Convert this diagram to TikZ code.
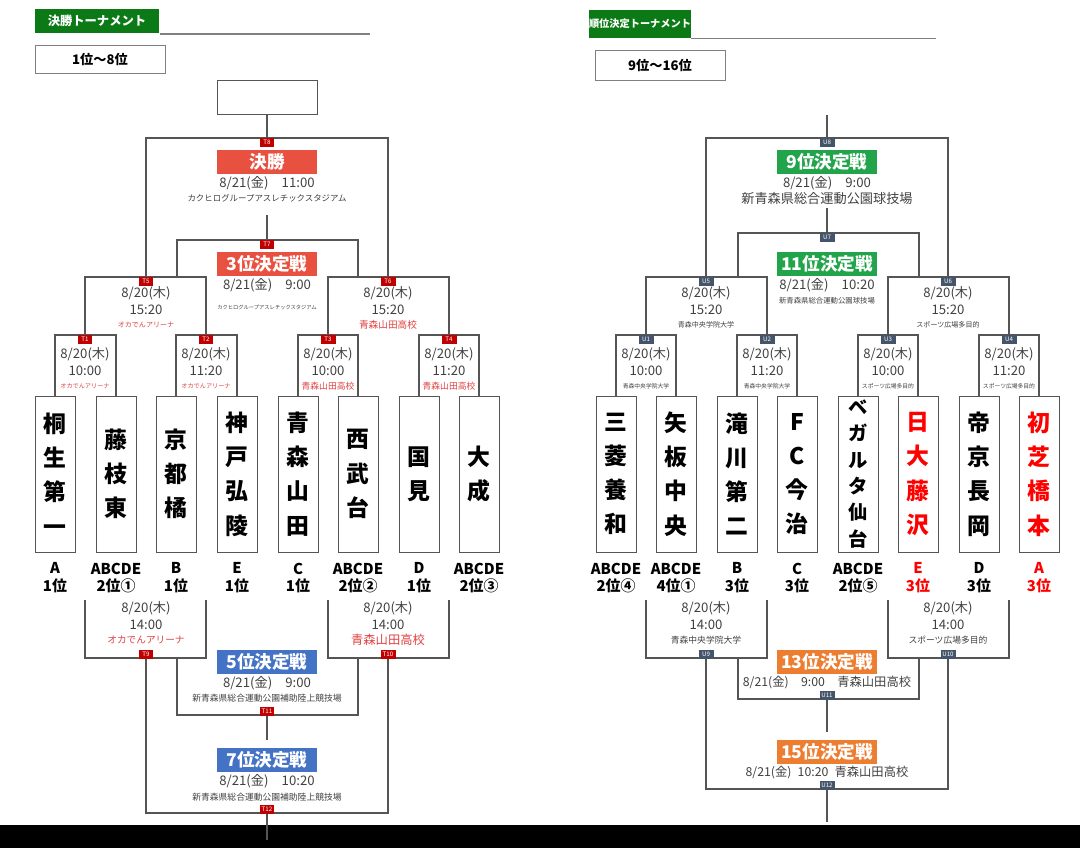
\documentclass[tikz,border=0pt]{standalone}
\usepackage{fontspec}
\setmainfont{Noto Sans CJK JP}
\usetikzlibrary{positioning}
\definecolor{kred}{HTML}{E8513F}
\definecolor{kblue}{HTML}{4472C4}
\definecolor{kgreen}{HTML}{22A44B}
\definecolor{korange}{HTML}{ED7D31}
\definecolor{khead}{HTML}{0B7A16}
\definecolor{ktagr}{HTML}{C00000}
\definecolor{ktagu}{HTML}{44546A}
\definecolor{kvenue}{HTML}{E04040}
\definecolor{kline}{HTML}{555555}

\tikzset{
  team/.style={draw=kline, minimum width=0.8cm, minimum height=3.12cm, inner sep=0pt,
    align=center, font=\fontsize{13}{19.5}\selectfont\bfseries},
  rank/.style={below=0.2cm, align=center, inner sep=0pt, font=\fontsize{8.5}{9.8}\selectfont\bfseries},
  tag/.style={fill=#1, text=white, anchor=north, inner sep=0.5pt, minimum width=0.3cm,
    minimum height=0.18cm, font=\fontsize{3.5}{4}\selectfont, yshift=0.01cm},
  title/.style={fill=#1, text=white, minimum width=2cm, minimum height=0.5cm, inner sep=0pt,
    font=\fontsize{10}{11}\selectfont\bfseries},
  bline/.style={draw=kline, line width=0.6pt},
  info/.style={text=black!75, inner sep=0pt, font=\fontsize{7.5}{8}\selectfont},
}
% three lines under a match
\newcommand\kinfo[5]{%
  \node[info] at (#1,#2) {8/20(木)};
  \node[info] at (#1,#2+17) {#3};
  \node[info, text=#5, font=\fontsize{#4}{5}\selectfont] at (#1,#2+32) {\csname venuetext\endcsname};}

\begin{document}
\begin{tikzpicture}[x=0.02cm, y=-0.02cm]
\useasboundingbox (0,0) rectangle (1080,848);
\fill[black] (0,825) rectangle (1080,848);

% headers
\node[fill=khead, text=white, minimum width=2.5cm, minimum height=0.5cm, font=\fontsize{7}{8}\selectfont\bfseries] (hl) at (97,21) {決勝トーナメント};
\draw[gray, line width=0.8pt] (hl.south east) -- ++(210,0);
\node[draw=gray, minimum width=2.6cm, minimum height=0.56cm, font=\fontsize{7.5}{9}\selectfont\bfseries] (rl) at (100,59) {1位～8位};
\node[fill=khead, text=white, minimum width=1.8cm, minimum height=0.56cm, inner sep=0pt, font=\fontsize{5.8}{7}\selectfont\bfseries] (hr) at (640,24) {順位決定トーナメント};
\draw[gray, line width=0.8pt] (hr.south east) -- ++(245,0);
\node[draw=gray, minimum width=2.6cm, minimum height=0.6cm, font=\fontsize{7.5}{9}\selectfont\bfseries] (rr) at (660,65) {9位～16位};

% teams
\foreach \i/\x/\nm/\rk/\col in {
  1/55/{桐\\生\\第\\一}/{A\\1位}/black, 2/116/{藤\\枝\\東}/{ABCDE\\2位①}/black,
  3/176/{京\\都\\橘}/{B\\1位}/black, 4/237/{神\\戸\\弘\\陵}/{E\\1位}/black,
  5/298/{青\\森\\山\\田}/{C\\1位}/black, 6/358/{西\\武\\台}/{ABCDE\\2位②}/black,
  7/419/{国\\見}/{D\\1位}/black, 8/479/{大\\成}/{ABCDE\\2位③}/black} {
  \node[team, text=\col] (L\i) at (\x,474) {\nm};
  \node[rank, text=\col] (LR\i) [below=0.2cm of L\i] {\rk};
}
\foreach \i/\x/\nm/\rk/\col in {
  1/616/{三\\菱\\養\\和}/{ABCDE\\2位④}/black, 2/676/{矢\\板\\中\\央}/{ABCDE\\4位①}/black,
  3/737/{滝\\川\\第\\二}/{B\\3位}/black, 4/797/{F\\C\\今\\治}/{C\\3位}/black,
  6/918/{日\\大\\藤\\沢}/{E\\3位}/red, 7/979/{帝\\京\\長\\岡}/{D\\3位}/black,
  8/1039/{初\\芝\\橋\\本}/{A\\3位}/red} {
  \node[team, text=\col] (R\i) at (\x,474) {\nm};
  \node[rank, text=\col] (RR\i) [below=0.2cm of R\i] {\rk};
}
\node[team, font=\fontsize{11}{15}\selectfont\bfseries] (R5) at (858,474) {ベ\\ガ\\ル\\タ\\仙\\台};
\node[rank] (RR5) [below=0.2cm of R5] {ABCDE\\2位⑤};

% ---------- left tree ----------
\coordinate (t1) at (85,335); \coordinate (t2) at (206,335);
\coordinate (t3) at (328,335); \coordinate (t4) at (449,335);
\coordinate (t5) at (146,277); \coordinate (t6) at (388,277);
\coordinate (t7) at (267,240); \coordinate (t8) at (267,138);
\coordinate (t7l) at (177,277); \coordinate (t7r) at (358,277);
\node[draw=kline, minimum width=2cm, minimum height=0.68cm] (top) at (267,97) {};
\draw[bline] (L1.north) |- (t1) -| (L2.north);
\draw[bline] (L3.north) |- (t2) -| (L4.north);
\draw[bline] (L5.north) |- (t3) -| (L6.north);
\draw[bline] (L7.north) |- (t4) -| (L8.north);
\draw[bline] (t1) |- (t5) -| (t2);
\draw[bline] (t3) |- (t6) -| (t4);
\draw[bline] (t5) |- (t8) -| (t6);
\draw[bline] (t8) -- (top.south);
\draw[bline] (t7l) |- (t7) -| (t7r);
\draw[bline] (t7) -- (267,215);
\foreach \c/\n in {t1/T1,t2/T2,t3/T3,t4/T4,t5/T5,t6/T6,t7/T7,t8/T8} \node[tag=ktagr] at (\c) {\n};

\node[title=kred] (final) at (267,162) {決勝};
\node[info] at (267,183) {8/21(金)\quad 11:00};
\node[info, font=\fontsize{4.8}{5}\selectfont] at (267,198) {カクヒログループアスレチックスタジアム};
\node[title=kred] (third) at (267,264) {3位決定戦};
\node[info] at (267,285) {8/21(金)\quad 9:00};
\node[info, font=\fontsize{3}{4}\selectfont] at (267,307) {カクヒログループアスレチックスタジアム};

\def\venuetext{オカでんアリーナ}
\kinfo{146}{293}{15:20}{4}{kvenue}
\kinfo{85}{354}{10:00}{3.5}{kvenue}
\kinfo{206}{354}{11:20}{3.5}{kvenue}
\def\venuetext{青森山田高校}
\kinfo{388}{293}{15:20}{5.5}{kvenue}
\kinfo{328}{354}{10:00}{5}{kvenue}
\kinfo{449}{354}{11:20}{5}{kvenue}

% left lower tree
\coordinate (b1) at (85,600); \coordinate (b2) at (206,600);
\coordinate (b3) at (328,600); \coordinate (b4) at (449,600);
\coordinate (t9) at (146,658); \coordinate (t10) at (388,658);
\coordinate (t11l) at (177,658); \coordinate (t11r) at (358,658);
\coordinate (t11) at (267,715); \coordinate (t12) at (267,813);
\draw[bline] (b1) |- (t9) -| (b2);
\draw[bline] (b3) |- (t10) -| (b4);
\draw[bline] (t11l) |- (t11) -| (t11r);
\draw[bline] (t11) -- (267,740);
\draw[bline] (t9) |- (t12) -| (t10);
\draw[bline] (t12) -- (267,840);
\foreach \c/\n in {t9/T9,t10/T10,t11/T11,t12/T12} \node[tag=ktagr, anchor=south, yshift=-0.03cm] at (\c) {\n};
\def\venuetext{オカでんアリーナ}
\kinfo{146}{608}{14:00}{5.5}{kvenue}
\def\venuetext{青森山田高校}
\kinfo{388}{608}{14:00}{7}{kvenue}
\node[title=kblue] (fifth) at (267,662) {5位決定戦};
\node[info] at (267,683) {8/21(金)\quad 9:00};
\node[info, font=\fontsize{5}{5}\selectfont] at (267,698) {新青森県総合運動公園補助陸上競技場};
\node[title=kblue] (seventh) at (267,760) {7位決定戦};
\node[info] at (267,781) {8/21(金)\quad 10:20};
\node[info, font=\fontsize{5}{5}\selectfont] at (267,797) {新青森県総合運動公園補助陸上競技場};

% ---------- right tree ----------
\coordinate (u1) at (646,335); \coordinate (u2) at (767,335);
\coordinate (u3) at (888,335); \coordinate (u4) at (1009,335);
\coordinate (u5) at (706,277); \coordinate (u6) at (948,277);
\coordinate (u7) at (827,233); \coordinate (u8) at (827,138);
\coordinate (u7l) at (738,277); \coordinate (u7r) at (919,277);
\coordinate (utop) at (827,115);
\draw[bline] (R1.north) |- (u1) -| (R2.north);
\draw[bline] (R3.north) |- (u2) -| (R4.north);
\draw[bline] (R5.north) |- (u3) -| (R6.north);
\draw[bline] (R7.north) |- (u4) -| (R8.north);
\draw[bline] (u1) |- (u5) -| (u2);
\draw[bline] (u3) |- (u6) -| (u4);
\draw[bline] (u5) |- (u8) -| (u6);
\draw[bline] (u8) -- (utop);
\draw[bline] (u7l) |- (u7) -| (u7r);
\draw[bline] (u7) -- (827,208);
\foreach \c/\n in {u1/U1,u2/U2,u3/U3,u4/U4,u5/U5,u6/U6,u7/U7,u8/U8} \node[tag=ktagu] at (\c) {\n};

\node[title=kgreen] (ninth) at (827,162) {9位決定戦};
\node[info] at (827,183) {8/21(金)\quad 9:00};
\node[info, font=\fontsize{7.5}{8}\selectfont] at (827,199) {新青森県総合運動公園球技場};
\node[title=kgreen] (eleventh) at (827,264) {11位決定戦};
\node[info] at (827,285) {8/21(金)\quad 10:20};
\node[info, font=\fontsize{4.2}{5}\selectfont] at (827,301) {新青森県総合運動公園球技場};

\def\venuetext{青森中央学院大学}
\kinfo{706}{293}{15:20}{4}{black!75}
\kinfo{646}{354}{10:00}{3.3}{black!75}
\kinfo{767}{354}{11:20}{3.3}{black!75}
\def\venuetext{スポーツ広場多目的}
\kinfo{948}{293}{15:20}{4}{black!75}
\kinfo{888}{354}{10:00}{3.3}{black!75}
\kinfo{1009}{354}{11:20}{3.3}{black!75}

% right lower tree
\coordinate (c1) at (646,600); \coordinate (c2) at (767,600);
\coordinate (c3) at (888,600); \coordinate (c4) at (1009,600);
\coordinate (u9) at (706,658); \coordinate (u10) at (948,658);
\coordinate (u11l) at (738,658); \coordinate (u11r) at (919,658);
\coordinate (u11) at (827,699); \coordinate (u12) at (827,789);
\draw[bline] (c1) |- (u9) -| (c2);
\draw[bline] (c3) |- (u10) -| (c4);
\draw[bline] (u11l) |- (u11) -| (u11r);
\draw[bline] (u11) -- (827,732);
\draw[bline] (u9) |- (u12) -| (u10);
\draw[bline] (u12) -- (827,822);
\foreach \c/\n in {u9/U9,u10/U10,u11/U11,u12/U12} \node[tag=ktagu, anchor=south, yshift=-0.03cm] at (\c) {\n};
\def\venuetext{青森中央学院大学}
\kinfo{706}{608}{14:00}{5}{black!75}
\def\venuetext{スポーツ広場多目的}
\kinfo{948}{608}{14:00}{5}{black!75}
\node[title=korange] (thirteenth) at (827,662) {13位決定戦};
\node[info, font=\fontsize{7}{8}\selectfont] at (827,683) {8/21(金)\quad 9:00\quad 青森山田高校};
\node[title=korange] (fifteenth) at (827,752) {15位決定戦};
\node[info, font=\fontsize{7}{8}\selectfont] at (827,773) {8/21(金)\enspace 10:20\enspace 青森山田高校};
\end{tikzpicture}
\end{document}
